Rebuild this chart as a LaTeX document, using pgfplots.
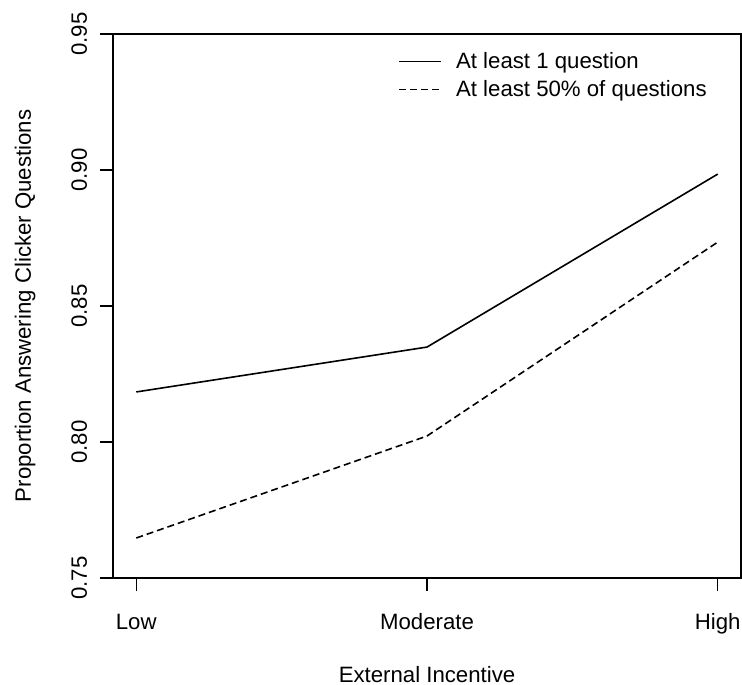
\documentclass[border=0pt]{standalone}
\usepackage{fontspec}
\setmainfont{Liberation Sans}
\usepackage{pgfplots}
\pgfplotsset{compat=1.18}
\begin{document}
\begin{tikzpicture}
\path[use as bounding box] (0,0) rectangle (371pt,342pt);
\begin{axis}[
  at={(56.5pt,53pt)}, anchor=south west,
  scale only axis, width=314pt, height=272pt,
  xmin=0.92, xmax=3.08, ymin=0.75, ymax=0.95,
  xtick={1,2,3}, xticklabels={Low,Moderate,High},
  ytick={0.75,0.80,0.85,0.90,0.95},
  /pgf/number format/assume math mode=true,
  /pgf/number format/fixed, /pgf/number format/fixed zerofill, /pgf/number format/precision=2,
  tick align=outside, major tick length=6.5pt,
  tick pos=left,
  tick style={black, line width=0.6pt},
  axis line style={black, line width=0.6pt},
  every tick label/.append style={font=\fontsize{11.1}{13.3}\selectfont, text=black},
  xticklabel style={anchor=base}, xticklabel shift=19pt,
  yticklabel style={rotate=90, anchor=base}, yticklabel shift=6.5pt,
  label style={font=\fontsize{11.1}{13.3}\selectfont},
  xlabel={External Incentive},
  xlabel style={at={(axis description cs:0.5,-0.1912)}, anchor=base},
  ylabel={Proportion Answering Clicker Questions},
  ylabel style={at={(axis description cs:-0.1306,0.5)}, anchor=base, rotate=0},
  legend style={draw=none, fill=none, at={(axis description cs:0.454,0.975)}, anchor=north west,
    font=\fontsize{11.1}{13.3}\selectfont, row sep=0.5pt, inner sep=0pt},
  legend cell align=left,
  legend image code/.code={\draw[#1] (0pt,0pt) -- (21pt,0pt); \path (26pt,0pt);},
]
\addplot[black, line width=0.8pt] coordinates {(1,0.8184) (2,0.8349) (3,0.8985)};
\addlegendentry{At least 1 question}
\addplot[black, line width=0.8pt, dash pattern=on 3.5pt off 2pt] coordinates {(1,0.7647) (2,0.8022) (3,0.8735)};
\addlegendentry{At least 50\% of questions}
\end{axis}
\end{tikzpicture}
\end{document}
